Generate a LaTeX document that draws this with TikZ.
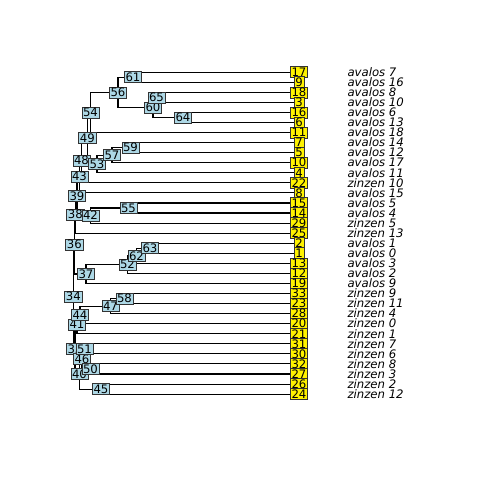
\documentclass[tikz,border=0pt]{standalone}
\usepackage{fontspec}
\setmainfont{DejaVu Sans}
\usetikzlibrary{backgrounds}
\definecolor{nodeblue}{RGB}{173,216,230}

\begin{document}
\begin{tikzpicture}[x=1pt, y=-10.06pt,
  inode/.style={draw=black!80, line width=0.6pt, fill=nodeblue, inner xsep=1.2pt, inner ysep=1.25pt,
    text height=8.5pt, text depth=0pt, font=\fontsize{11.7}{12}\selectfont},
  tipbox/.style={inode, fill=yellow},
  tiptext/.style={anchor=west, inner sep=0pt, text height=8.5pt, text depth=0pt,
    font=\fontsize{11.7}{12}\selectfont\itshape},
  edge/.style={line width=1.1pt, line cap=round}]

\useasboundingbox (0,-7.177) rectangle (480,40.537);

%TIPS
\foreach \t [count=\r from 0] in {17,9,18,3,16,6,11,7,5,10,4,22,8,15,14,29,25,2,1,13,12,19,33,23,28,20,21,31,30,32,27,26,24}
  \node[tipbox] (t\t) at (299,\r) {\t};

\foreach \lab [count=\r from 0] in {avalos 7,avalos 16,avalos 8,avalos 10,avalos 6,avalos 13,avalos 18,avalos 14,avalos 12,avalos 17,avalos 11,zinzen 10,avalos 15,avalos 5,avalos 4,zinzen 5,zinzen 13,avalos 1,avalos 0,avalos 3,avalos 2,avalos 9,zinzen 9,zinzen 11,zinzen 4,zinzen 0,zinzen 1,zinzen 7,zinzen 6,zinzen 8,zinzen 3,zinzen 2,zinzen 12}
  \node[tiptext] (l\r) at (347.3,\r) {\lab};

%INNER NODES
\node[inode] (n34) at (73.3,22.32) {34};
\node[inode] (n35) at (75,27.53) {35};
\node[inode] (n36) at (74.3,17.11) {36};
\node[inode] (n37) at (86,20.06) {37};
\node[inode] (n38) at (75.3,14.16) {38};
\node[inode] (n39) at (77,12.32) {39};
\node[inode] (n40) at (79.5,30) {40};
\node[inode] (n41) at (77,25.06) {41};
\node[inode] (n42) at (90.5,14.25) {42};
\node[inode] (n43) at (79.5,10.39) {43};
\node[inode] (n44) at (80,24.125) {44};
\node[inode] (n45) at (101,31.5) {45};
\node[inode] (n46) at (82,28.5) {46};
\node[inode] (n47) at (110.5,23.25) {47};
\node[inode] (n48) at (81.5,8.78) {48};
\node[inode] (n49) at (87.3,6.56) {49};
\node[inode] (n50) at (90.5,29.5) {50};
\node[inode] (n51) at (84.5,27.5) {51};
\node[inode] (n52) at (127.5,19.125) {52};
\node[inode] (n53) at (97,9.125) {53};
\node[inode] (n54) at (90.5,4) {54};
\node[inode] (n55) at (128.5,13.5) {55};
\node[inode] (n56) at (118,2) {56};
\node[inode] (n57) at (112,8.25) {57};
\node[inode] (n58) at (124.5,22.5) {58};
\node[inode] (n59) at (130.5,7.5) {59};
\node[inode] (n60) at (153,3.5) {60};
\node[inode] (n61) at (133,0.5) {61};
\node[inode] (n62) at (136.5,18.25) {62};
\node[inode] (n63) at (150,17.5) {63};
\node[inode] (n64) at (183,4.5) {64};
\node[inode] (n65) at (156.5,2.5) {65};

%EDGES
\begin{scope}[on background layer, every path/.style={edge}]
\foreach \p/\c in {n34/n36,n34/n35,n36/n38,n36/n37,n38/n39,n38/t25,n39/n43,n39/n42,
    n43/n48,n43/t8,n48/n49,n48/t22,n49/n54,n49/n53,n54/n56,n54/t11,n56/n61,n56/n60,
    n61/t17,n61/t9,n60/n65,n60/n64,n65/t18,n65/t3,n64/t16,n64/t6,n53/n57,n53/t4,
    n57/n59,n57/t10,n59/t7,n59/t5,n42/n55,n42/t29,n55/t15,n55/t14,n37/n52,n37/t19,
    n52/n62,n52/t12,n62/n63,n62/t13,n63/t2,n63/t1,n35/n41,n35/n40,n41/n44,n41/t21,
    n44/n47,n44/t20,n47/n58,n47/t28,n58/t33,n58/t23,n40/n46,n40/n45,n46/n51,n46/n50,
    n51/t31,n51/t30,n50/t32,n50/t27,n45/t26,n45/t24}
  \draw (\p.center) |- (\c.center);
\end{scope}

\end{tikzpicture}
\end{document}
